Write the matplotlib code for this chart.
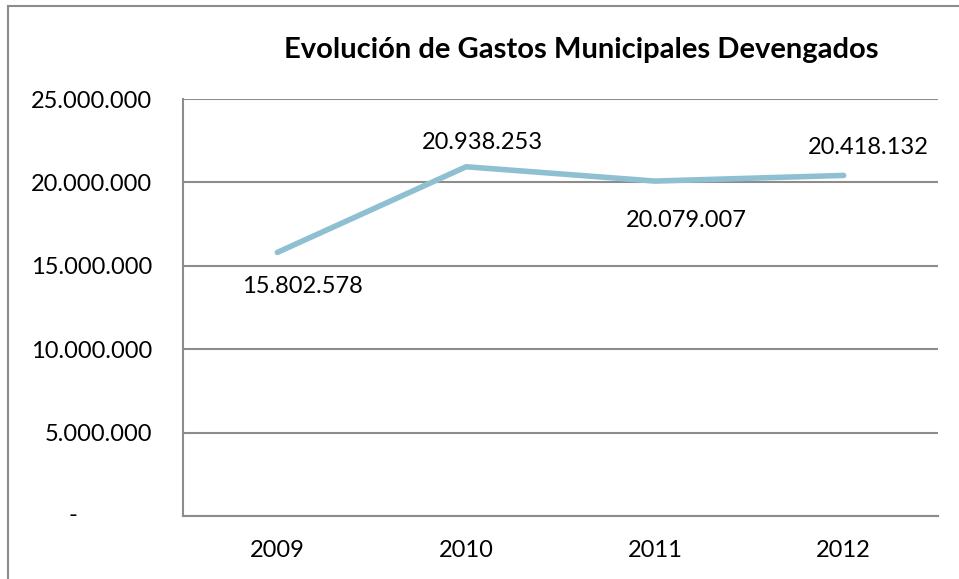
import matplotlib
matplotlib.use("Agg")
import matplotlib.pyplot as plt
from matplotlib.lines import Line2D
from matplotlib.ticker import FuncFormatter

years = ["2009", "2010", "2011", "2012"]
gastos = [15802578, 20938253, 20079007, 20418132]
label_offsets = [(25, -34), (16, 24), (31, -39), (25, 28)]  # pixel offsets for data labels
yticks = [0, 5000000, 10000000, 15000000, 20000000, 25000000]

W, H = 959, 579
fig = plt.figure(figsize=(W / 100, H / 100), dpi=100)
plt.rcParams['font.family'] = ['Lato', 'DejaVu Sans']

# axes placement in pixels
left, right, top, bottom = 183, 938, 99, 516
ax = fig.add_axes([left / W, 1 - bottom / H, (right - left) / W, (bottom - top) / H])

x = list(range(len(years)))
ax.plot(x, gastos, color="#8FC0D2", lw=4.0, solid_capstyle="round", solid_joinstyle="round", zorder=3)

ax.set_xlim(-0.5, len(years) - 0.5)
ax.set_ylim(0, 25000000)
ax.set_yticks(yticks)

def fmt(v, pos=None):
    if v == 0:
        return "-"
    return f"{int(v):,}".replace(",", ".")

ax.yaxis.set_major_formatter(FuncFormatter(lambda v, p: "" if v == 0 else fmt(v)))
ax.set_xticks(x)
ax.set_xticklabels(years)
ax.tick_params(axis="both", length=0, labelsize=17, colors="black")
ax.tick_params(axis="y", pad=22)
ax.tick_params(axis="x", pad=17)
ax.grid(axis="y", color="#8C8C8C", lw=1.5)
ax.set_axisbelow(True)
for s in ["top", "right"]:
    ax.spines[s].set_visible(False)
for s in ["left", "bottom"]:
    ax.spines[s].set_color("#8C8C8C")
    ax.spines[s].set_linewidth(1.5)

# zero label shown as dash
ax.annotate("-", xy=(0, 0), xycoords=("axes fraction", "data"), xytext=(-110, 0),
            textcoords="offset pixels", ha="center", va="center", fontsize=17)

for xi, v, off in zip(x, gastos, label_offsets):
    ax.annotate(fmt(v), xy=(xi, v), xytext=off, textcoords="offset pixels",
                ha="center", va="center", fontsize=17)

fig.text(581 / W, 1 - 50 / H, "Evolución de Gastos Municipales Devengados",
         ha="center", va="center", fontsize=21, fontweight="bold")

# chart frame
fig.add_artist(Line2D([8 / W, 8 / W], [0, 1 - 6 / H], transform=fig.transFigure, color="#8C8C8C", lw=1.5))
fig.add_artist(Line2D([8 / W, 1], [1 - 6 / H, 1 - 6 / H], transform=fig.transFigure, color="#8C8C8C", lw=1.5))

fig.savefig("out.png", dpi=100, facecolor="white")
